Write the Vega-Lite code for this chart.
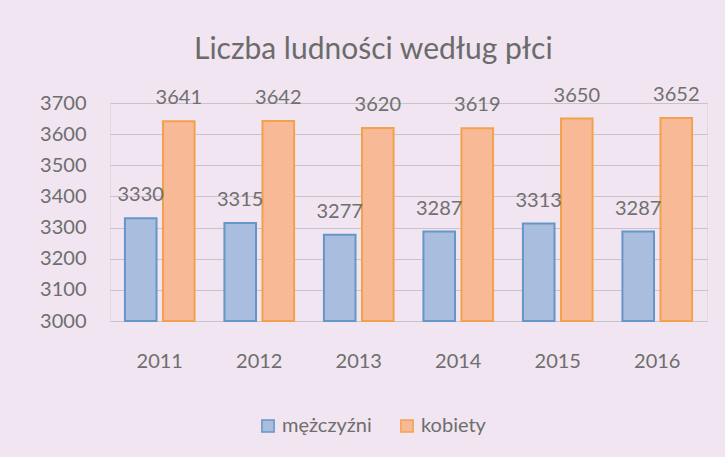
{
  "$schema": "https://vega.github.io/schema/vega-lite/v6.json",
  "width": 597,
  "height": 218,
  "autosize": {"type": "none"},
  "padding": {"left": 110, "top": 103, "right": 18, "bottom": 136},
  "background": "#f0e5f0",
  "title": {
    "text": "Liczba ludności według płci",
    "font": "Lato",
    "fontSize": 30,
    "fontWeight": "normal",
    "color": "#6b6b6b",
    "anchor": "middle",
    "frame": "bounds",
    "offset": 20
  },
  "data": {
    "values": [
      {"rok": "2011", "plec": "mężczyźni", "wartosc": 3330},
      {"rok": "2011", "plec": "kobiety", "wartosc": 3641},
      {"rok": "2012", "plec": "mężczyźni", "wartosc": 3315},
      {"rok": "2012", "plec": "kobiety", "wartosc": 3642},
      {"rok": "2013", "plec": "mężczyźni", "wartosc": 3277},
      {"rok": "2013", "plec": "kobiety", "wartosc": 3620},
      {"rok": "2014", "plec": "mężczyźni", "wartosc": 3287},
      {"rok": "2014", "plec": "kobiety", "wartosc": 3619},
      {"rok": "2015", "plec": "mężczyźni", "wartosc": 3313},
      {"rok": "2015", "plec": "kobiety", "wartosc": 3650},
      {"rok": "2016", "plec": "mężczyźni", "wartosc": 3287},
      {"rok": "2016", "plec": "kobiety", "wartosc": 3652}
    ]
  },
  "encoding": {
    "x": {
      "field": "rok",
      "type": "nominal",
      "scale": {"paddingInner": 0.3, "paddingOuter": 0.15},
      "axis": {
        "title": null,
        "labelAngle": 0,
        "labelFont": "Lato",
        "labelFontSize": 20,
        "labelColor": "#6e6e6e",
        "labelPadding": 30,
        "ticks": false,
        "domain": false
      }
    },
    "xOffset": {
      "field": "plec",
      "type": "nominal",
      "sort": ["mężczyźni", "kobiety"],
      "scale": {"paddingInner": 0.17}
    },
    "y": {
      "field": "wartosc",
      "type": "quantitative",
      "scale": {"domain": [3000, 3700], "zero": false, "nice": false},
      "axis": {
        "title": null,
        "format": "d",
        "values": [3000, 3100, 3200, 3300, 3400, 3500, 3600, 3700],
        "labelFont": "Lato",
        "labelFontSize": 20,
        "labelColor": "#6e6e6e",
        "labelPadding": 24,
        "ticks": false,
        "domain": false,
        "grid": true,
        "gridColor": "#c9c2ca",
        "gridWidth": 1.2
      }
    }
  },
  "layer": [
    {
      "mark": {"type": "bar", "strokeWidth": 2},
      "encoding": {
        "y2": {"datum": 3000},
        "color": {
          "field": "plec",
          "type": "nominal",
          "sort": ["mężczyźni", "kobiety"],
          "scale": {"domain": ["mężczyźni", "kobiety"], "range": ["#a9bddf", "#f8b996"]},
          "legend": {
            "title": null,
            "orient": "none",
            "direction": "horizontal",
            "legendX": 148,
            "legendY": 313,
            "symbolType": "square",
            "symbolSize": 150,
            "symbolStrokeWidth": 1.5,
            "labelFont": "Lato",
            "labelFontSize": 20,
            "labelColor": "#6e6e6e",
            "columnPadding": 25,
            "labelOffset": 4
          }
        },
        "stroke": {
          "field": "plec",
          "type": "nominal",
          "scale": {"domain": ["mężczyźni", "kobiety"], "range": ["#6596c8", "#f4a14e"]},
          "legend": null
        }
      }
    },
    {
      "mark": {
        "type": "text",
        "baseline": "alphabetic",
        "dy": -17,
        "font": "Lato",
        "fontSize": 20,
        "color": "#707070"
      },
      "encoding": {
        "text": {"field": "wartosc", "type": "quantitative"}
      }
    }
  ]
}
